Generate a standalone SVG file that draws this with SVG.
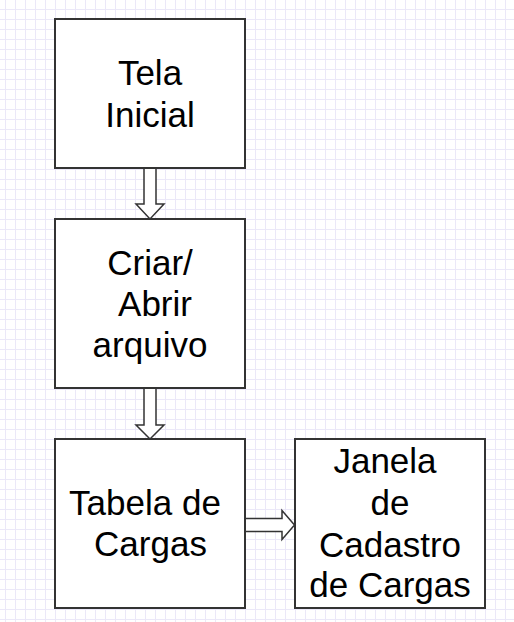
<svg xmlns="http://www.w3.org/2000/svg" width="514" height="622" viewBox="0 0 514 622">
  <defs>
    <pattern id="grid" patternUnits="userSpaceOnUse" x="0" y="0" width="10" height="10">
      <rect x="5" y="0" width="1" height="10" fill="#ebe8f8"/>
      <rect x="0" y="9" width="10" height="1" fill="#ebe8f8"/>
    </pattern>
  </defs>
  <style>
    .box { fill: #ffffff; stroke: #333333; stroke-width: 2; }
    .arrow { fill: #ffffff; stroke: #333333; stroke-width: 1.5; stroke-linejoin: miter; }
    .label { font-family: "Liberation Sans", Arial, sans-serif; font-size: 35px; fill: #000000; text-anchor: middle; }
  </style>
  <rect x="0" y="0" width="514" height="622" fill="#ffffff"/>
  <rect x="0" y="0" width="514" height="622" fill="url(#grid)"/>

  <g id="connectors">
    <polygon class="arrow" points="144,168 156,168 156,204 164,204 150,219 136,204 144,204"/>
    <polygon class="arrow" points="144,388 156,388 156,425 164,425 150,439 136,425 144,425"/>
    <polygon class="arrow" points="245,518.5 282,518.5 282,510.5 294.5,525 282,539.5 282,531.5 245,531.5"/>
  </g>

  <g id="tela-inicial">
    <rect class="box" x="55" y="19" width="190" height="149"/>
    <text class="label" x="150" y="85">Tela</text>
    <text class="label" x="150" y="126.5">Inicial</text>
  </g>

  <g id="criar-abrir">
    <rect class="box" x="55" y="219" width="190" height="169"/>
    <text class="label" x="150" y="275">Criar/</text>
    <text class="label" x="155" y="316">Abrir</text>
    <text class="label" x="150" y="357">arquivo</text>
  </g>

  <g id="tabela-cargas">
    <rect class="box" x="55" y="439" width="190" height="169"/>
    <text class="label" x="145" y="515">Tabela de</text>
    <text class="label" x="150.5" y="556">Cargas</text>
  </g>

  <g id="janela-cadastro">
    <rect class="box" x="295" y="439" width="190" height="169"/>
    <text class="label" x="385" y="473">Janela</text>
    <text class="label" x="390" y="515">de</text>
    <text class="label" x="390" y="556.5">Cadastro</text>
    <text class="label" x="390" y="597">de Cargas</text>
  </g>
</svg>
